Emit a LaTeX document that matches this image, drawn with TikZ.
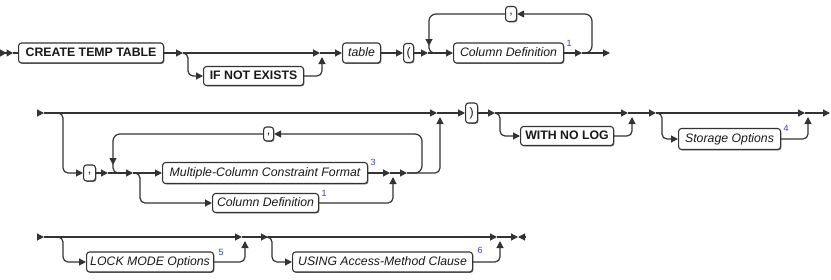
\documentclass[tikz,border=0pt]{standalone}
\usepackage{fontspec}
\setmainfont{Liberation Sans}
\usetikzlibrary{arrows.meta,shadows,calc}
\definecolor{ln}{HTML}{333333}
\definecolor{supc}{HTML}{3A3AD8}
\begin{document}
\begin{tikzpicture}[x=1pt,y=-1pt,
  line width=1.2pt, color=ln,
  arr/.style={-{Triangle[length=7pt,width=7pt]}},
  br/.style={arr, rounded corners=5pt},
  box/.style={draw=ln, fill=white, rounded corners=3pt, anchor=west, minimum height=20pt,
    inner sep=0pt, line width=1.1pt, text=black!90,
    text height=9pt, text depth=2.5pt,
    drop shadow={shadow xshift=0.9pt,shadow yshift=-0.9pt,fill=black!55,opacity=1},
    font=\fontsize{12.3}{14}\selectfont},
  kw/.style={box, font=\fontsize{12.3}{14}\selectfont\bfseries},
  var/.style={box, font=\fontsize{12.3}{14}\selectfont\itshape},
  sym/.style={box},
  cma/.style={box, text height=3.5pt, text depth=2.5pt},
  sup/.style={anchor=base west, inner sep=0pt, text=supc, font=\fontsize{9}{9}\selectfont},
]
\useasboundingbox (0,0) rectangle (831,279);

% ---------- nodes ----------
\node[kw, minimum width=145pt] (n1) at (18,53) {CREATE TEMP TABLE};
\node[kw, minimum width=100pt, minimum height=19pt] (ine) at (203,76) {IF NOT EXISTS};
\node[var, minimum width=38pt] (tbl) at (342,53) {table};
\node[sym, minimum width=10pt, minimum height=19pt, text height=9.5pt, text depth=3pt] (lp) at (403,53) {(};
\node[var, minimum width=110pt] (cd1) at (453,53) {Column Definition};
\node[cma, minimum width=11pt, minimum height=15pt] (cm1) at (505,14) {,};

\node[cma, minimum width=12pt, minimum height=16pt] (cm2) at (83,173) {,};
\node[var, minimum width=205pt, minimum height=21pt] (mc) at (162,173) {Multiple-Column Constraint Format};
\node[var, minimum width=106pt, minimum height=19pt] (cd2) at (212,203) {Column Definition};
\node[cma, minimum width=10pt, minimum height=14pt] (cm3) at (263,134) {,};
\node[sym, minimum width=12pt, text height=9.5pt, text depth=3pt] (rp) at (465,113) {)};
\node[kw, minimum width=93pt, minimum height=19pt] (wnl) at (520,136) {WITH NO LOG};
\node[var, minimum width=102pt, minimum height=21pt] (so) at (678,139) {Storage Options};

\node[var, minimum width=127pt] (lm) at (86,262) {LOCK MODE Options};
\node[var, minimum width=180pt] (us) at (292,262) {USING Access-Method Clause};

% superscripts
\node[sup] (u1) at ($(cd1.north east)+(2,4)$) {1};
\node[sup] (u3) at ($(mc.north east)+(2,4)$) {3};
\node[sup] (u1b) at ($(cd2.north east)+(2,4)$) {1};
\node[sup] (u4) at ($(so.north east)+(2,4)$) {4};
\node[sup] (u5) at ($(lm.north east)+(4,4)$) {5};
\node[sup] (u6) at ($(us.north east)+(4,2)$) {6};

% ---------- row 1 ----------
\coordinate (st1) at (0,53);
\coordinate (s1) at (13,53);
\draw[-{Triangle[length=6.5pt,width=7pt]Triangle[length=6.5pt,width=7pt]}] (st1) -- (s1);
\draw (s1) -- (n1.west);
\coordinate (a1) at (183,53);
\draw[arr] (n1.east) -- (a1);
\coordinate (j1) at (320,53);
\draw[arr] (a1) -- (j1);
\draw[br] (a1) -- (188,53) -- (188,76) -- (ine.west);
\draw[br] (ine.east) -- (322,76) -- (322,57);
\draw[arr] (j1) -- (tbl.west);
\draw[arr] (tbl.east) -- (lp.west);
\coordinate (a2) at (428,53);
\draw[arr] (lp.east) -- (a2);
\draw[arr] (a2) -- (cd1.west);
\coordinate (a3) at (582,53);
\draw[arr] (cd1.east) -- (a3);
\coordinate (e1) at (610,53);
\draw[arr] (a3) -- (e1);
\draw[br, rounded corners=7pt] (a3) -- (592,53) -- (592,14) -- (cm1.east);
\draw[br, rounded corners=7pt] (cm1.west) -- (429,14) -- (429,46);
\draw[rounded corners=5pt] (429,45) -- (429,53) -- (440,53);

% ---------- row 2 ----------
\coordinate (st2) at (37,113);
\coordinate (s2) at (44,113);
\draw[arr] (st2) -- (s2);
\coordinate (j2) at (437,113);
\draw[arr] (s2) -- (j2);
\draw[br] (s2) -- (63,113) -- (63,173) -- (cm2.west);
\coordinate (a4) at (108,173);
\draw[arr] (cm2.east) -- (a4);
\coordinate (a5) at (133,173);
\draw[arr] (a4) -- (a5);
\draw[arr] (a5) -- (mc.west);
\draw[br] (a5) -- (140,173) -- (140,203) -- (cd2.west);
\coordinate (a6) at (390,173);
\draw[arr] (mc.east) -- (a6);
\draw[br] (cd2.east) -- (393,203) -- (393,177);
\coordinate (a7) at (407,173);
\draw[arr] (a6) -- (a7);
\draw[br, rounded corners=7pt] (a7) -- (422,173) -- (422,134) -- (cm3.east);
\draw[br, rounded corners=7pt] (cm3.west) -- (113,134) -- (113,165);
\draw[rounded corners=5pt] (113,164) -- (113,173) -- (122,173);
\draw[br] (a7) -- (440,173) -- (440,117);
\draw[arr] (j2) -- (rp.west);
\coordinate (a8) at (495,113);
\draw[arr] (rp.east) -- (a8);
\coordinate (j3) at (628,113);
\draw[arr] (a8) -- (j3);
\draw[br] (a8) -- (500,113) -- (500,136) -- (wnl.west);
\draw[br] (wnl.east) -- (632,136) -- (632,117);
\coordinate (a9) at (656,113);
\draw[arr] (j3) -- (a9);
\coordinate (j4) at (805,113);
\draw[arr] (a9) -- (j4);
\draw[br] (a9) -- (662,113) -- (662,139) -- (so.west);
\draw[br] (so.east) -- (808,139) -- (808,117);
\coordinate (e2) at (830,113);
\draw[arr] (j4) -- (e2);

% ---------- row 3 ----------
\coordinate (st3) at (37,237);
\coordinate (s3) at (44,237);
\draw[arr] (st3) -- (s3);
\coordinate (j5) at (242,237);
\draw[arr] (s3) -- (j5);
\draw[br] (s3) -- (63,237) -- (63,262) -- (lm.west);
\draw[br] (lm.east) -- (245,262) -- (245,241);
\coordinate (a10) at (268,237);
\draw[arr] (j5) -- (a10);
\coordinate (j6) at (497,237);
\draw[arr] (a10) -- (j6);
\draw[br] (a10) -- (272,237) -- (272,262) -- (us.west);
\draw[br] (us.east) -- (500,262) -- (500,241);
\coordinate (e3) at (511,237);
\coordinate (e4) at (518,237);
\coordinate (e5) at (525,237);
\draw (j6) -- (e3);
\draw[arr] (e3) -- (e4);
\draw[arr] (e5) -- (e4);
\end{tikzpicture}
\end{document}
